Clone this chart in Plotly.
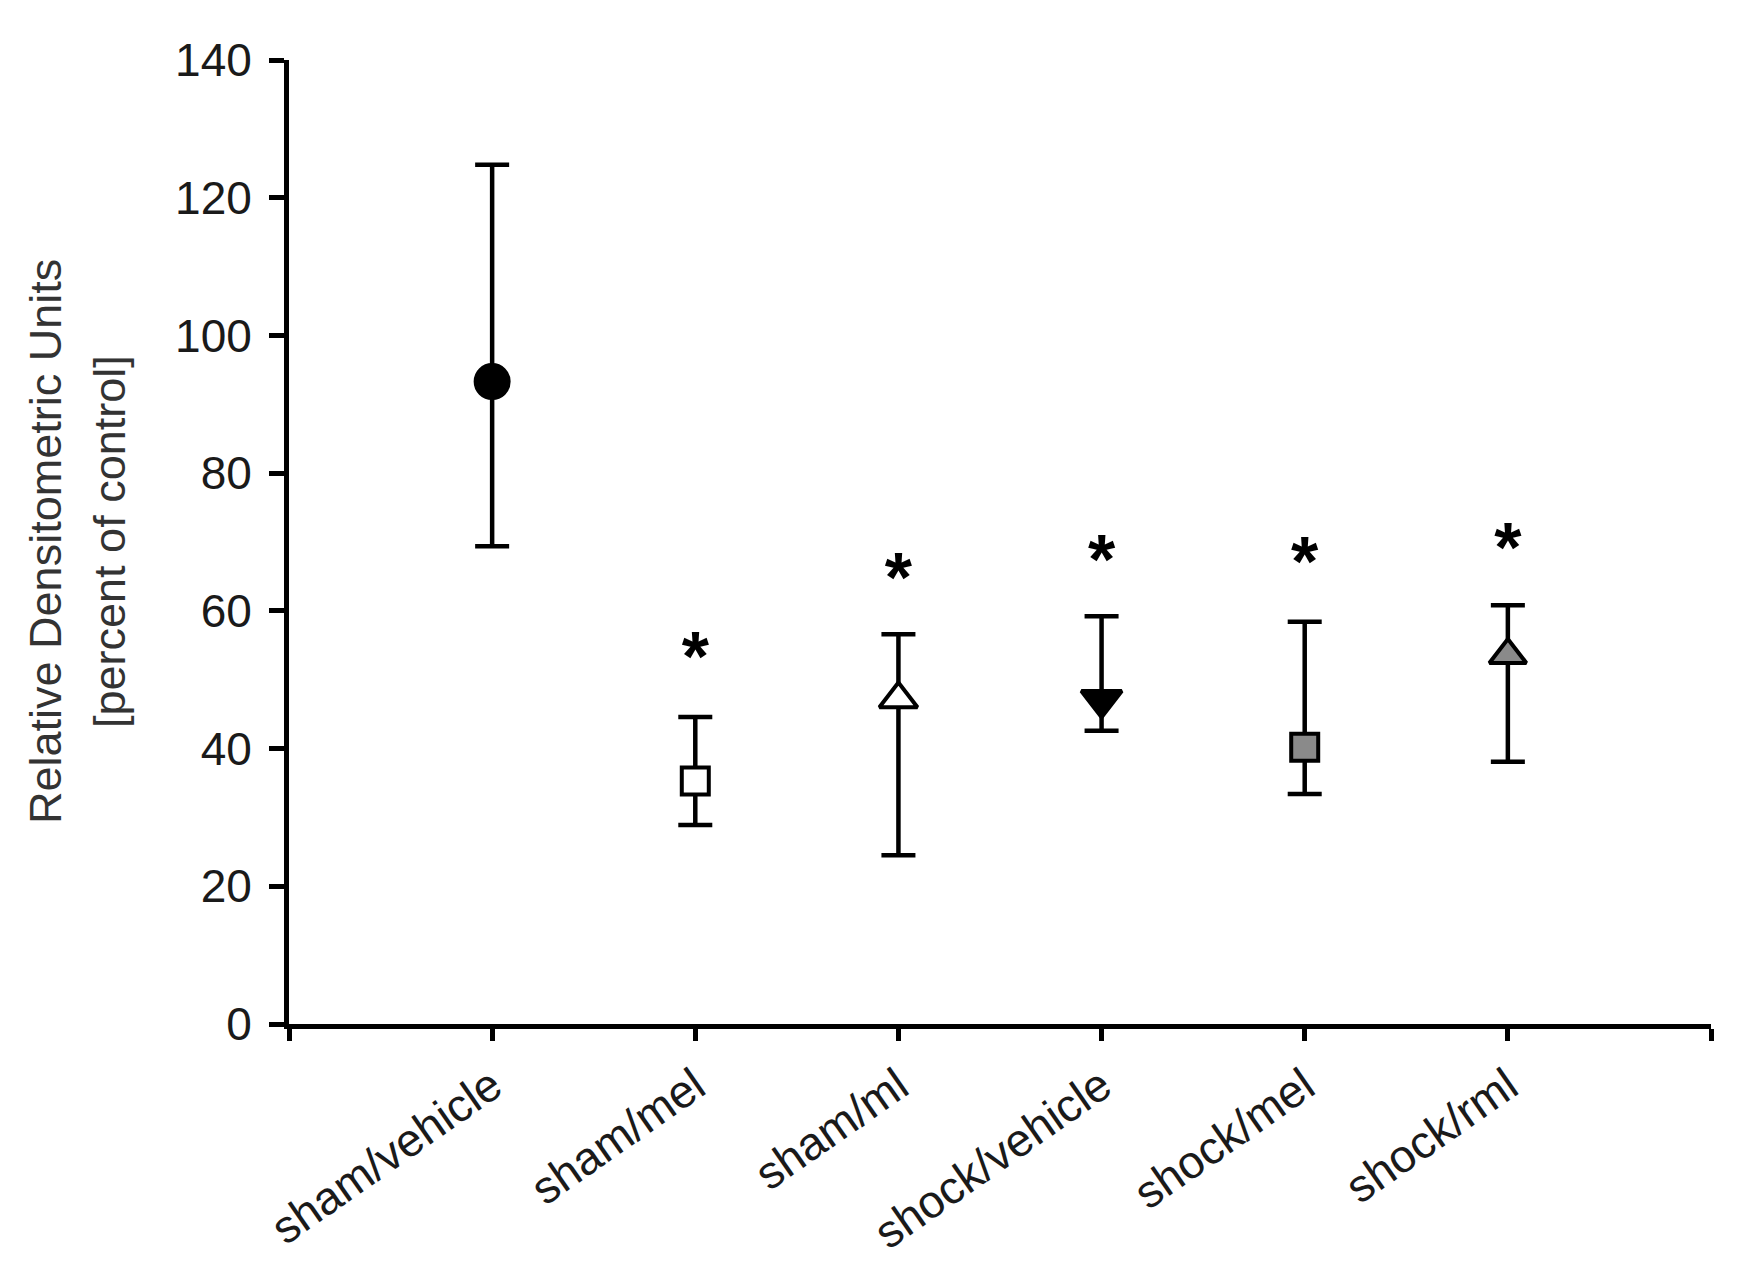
import plotly.graph_objects as go

# ---- data ----
categories = ["sham/vehicle", "sham/mel", "sham/ml", "shock/vehicle", "shock/mel", "shock/rml"]
means = [93.3, 35.3, 47.2, 47.1, 40.2, 53.6]
upper = [124.8, 44.6, 56.6, 59.2, 58.4, 60.8]
lower = [69.4, 28.9, 24.5, 42.6, 33.4, 38.1]
star_y = [None, 52.4, 63.9, 66.4, 66.2, 68.2]
star_text = ["", "*", "*", "*", "*", "*"]
symbols = ["circle", "square", "triangle-up", "triangle-down", "square", "triangle-up"]
fills = ["black", "white", "white", "black", "#8a8a8a", "#8a8a8a"]
sizes = [33, 27, 33, 35, 27, 32]
y_title = ["Relative Densitometric Units", "[percent of control]"]

xpos = [i + 1 for i in range(len(categories))]
err_plus = [u - m for u, m in zip(upper, means)]
err_minus = [m - l for m, l in zip(means, lower)]

FONT = "Arial, 'Liberation Sans', sans-serif"

fig = go.Figure()
fig.add_trace(go.Scatter(
    x=xpos, y=means, mode="markers",
    marker=dict(symbol=symbols, color=fills, size=sizes, opacity=1,
                line=dict(color="black", width=4)),
    error_y=dict(type="data", symmetric=False, array=err_plus, arrayminus=err_minus,
                 color="black", thickness=4.5, width=17),
    showlegend=False, cliponaxis=False,
))
fig.add_trace(go.Scatter(
    x=xpos, y=star_y, mode="text", text=star_text,
    textposition="middle center",
    textfont=dict(family=FONT, size=70, color="black", weight="bold"),
    showlegend=False, cliponaxis=False,
))

# two-line rotated y-axis title
for txt, shift in zip(y_title, [-244, -180]):
    fig.add_annotation(
        text=txt, xref="paper", yref="paper", x=0, y=0.5,
        xanchor="center", yanchor="middle", xshift=shift,
        textangle=-90, showarrow=False,
        font=dict(family=FONT, size=45, color="#333333"),
    )

fig.update_layout(
    width=1745, height=1263,
    paper_bgcolor="white", plot_bgcolor="white",
    margin=dict(l=281, r=42, t=52, b=245),
    font=dict(family=FONT, color="#1a1a1a", size=46),
    xaxis=dict(
        range=[0, 7], tickmode="array", tickvals=list(range(0, 8)),
        ticktext=[""] + categories + [""],
        tickangle=-35, showline=True, linecolor="black", linewidth=5,
        ticks="outside", ticklen=12, tickwidth=4.5, tickcolor="black",
        showgrid=False, zeroline=False,
        tickfont=dict(family=FONT, size=46, color="#1a1a1a"),
    ),
    yaxis=dict(
        range=[0, 140], dtick=20, showline=True, linecolor="black", linewidth=5,
        ticks="outside", ticklen=15, tickwidth=4.5, tickcolor="black",
        ticklabelstandoff=8,
        showgrid=False, zeroline=False,
        tickfont=dict(family=FONT, size=46, color="#1a1a1a"),
    ),
)

fig.write_html("out.html")
